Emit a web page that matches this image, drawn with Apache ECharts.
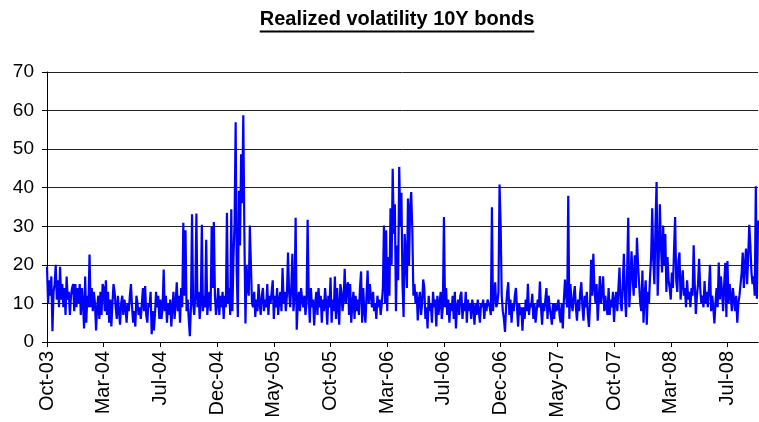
<!DOCTYPE html>
<html>
<head>
<meta charset="utf-8">
<script src="https://cdn.jsdelivr.net/npm/echarts@6/dist/echarts.min.js"></script>
<style>
  html, body { margin: 0; padding: 0; background: #fff; }
  #chart { width: 759px; height: 422px; }
</style>
</head>
<body>
<div id="chart"></div>
<script>
// tick labels, one every 52 observations
const tickLabels = ['Oct-03', 'Mar-04', 'Jul-04', 'Dec-04', 'May-05', 'Oct-05', 'Mar-06',
  'Jul-06', 'Dec-06', 'May-07', 'Oct-07', 'Mar-08', 'Jul-08'];
const tickStep = 52;

// realized vol, one block per tick period
const volOct03 = [19.5, 10, 16, 12, 17, 2.8, 13, 15, 20, 11,
  16, 9, 19.5, 11, 15, 9, 14, 7, 17, 11,
  13, 7, 12, 14, 15, 8, 15, 9, 14, 10,
  15, 7, 14, 10, 3.5, 17, 5, 12, 9, 22.7,
  9, 14, 8, 13, 10, 3, 9, 12, 6, 13,
  7, 15];
const volMar04 = [14, 8, 16, 7, 13, 5, 11, 4, 10, 15,
  13, 9, 6, 12, 8, 4.5, 10, 12, 7, 11,
  9, 5, 10, 8, 12, 15, 9, 5, 8, 4,
  12, 10, 7, 9, 6, 10, 14, 8, 14.5, 7,
  5, 10, 9, 13, 2, 8, 3, 7, 13, 9,
  12, 6];
const volJul04 = [11, 6, 9, 18.8, 8, 12, 5, 10, 7, 11,
  4, 9, 13, 6, 10, 15.5, 8, 12, 5, 14,
  9, 30.9, 12, 29, 8, 11, 6, 1.5, 9, 33.1,
  10, 7, 12, 33.3, 9, 13, 6, 10, 30.4, 8,
  12, 9, 26.5, 7, 11, 13, 8, 29.8, 14, 31.1,
  12, 7];
const volDec04 = [10, 14, 7, 12, 9, 13, 6, 12, 9, 33.5,
  10, 14, 7, 34.4, 8, 22, 31, 57, 18, 6.5,
  39.2, 25, 48.7, 36, 58.8, 28, 4.8, 20, 14, 12,
  30.2, 20, 10, 9, 13, 6.5, 11, 8, 15, 10,
  7, 12, 14, 8, 11, 9, 15, 7, 12, 10,
  13, 16];
const volMay05 = [6, 12, 9, 14, 7, 11, 13, 8, 19.2, 10,
  13, 8, 12, 23.2, 13, 9, 14, 22.9, 8, 12,
  32.2, 3.2, 10, 13, 8, 14, 11, 9, 12, 7,
  10, 31.7, 12, 5, 14, 9, 11, 4.3, 10, 13,
  7, 14, 9, 12, 5, 11, 8, 14, 10, 4.5,
  12, 9];
const volOct05 = [16.7, 5, 11, 8, 17, 6, 14, 9, 4.5, 15,
  13, 8, 11, 19, 10, 14, 15.5, 7, 15, 5,
  10, 13, 6, 12, 8, 11, 7, 14, 18.3, 5,
  14, 8, 5, 12, 18.5, 10, 15, 12, 9, 13,
  8, 10, 6, 12, 9, 11, 7, 10, 14, 30.2,
  10, 29];
const volMar06 = [8, 22, 12, 34.7, 20, 44.9, 28, 35.7, 8, 25,
  16, 45.4, 30, 38.7, 15, 6.5, 28, 22, 14, 37.2,
  20, 35, 38.9, 29, 12, 15, 10, 13, 5.6, 11,
  13, 7, 10, 16.2, 14, 6, 9, 3.5, 12, 8,
  10, 5, 13, 9, 11, 4, 12, 7, 10, 13,
  6, 9];
const volJul06 = [32.4, 9, 14, 7, 11, 5, 10, 8, 12, 6,
  13, 3.5, 9, 11, 7, 12, 13, 6, 10, 8,
  13, 5, 11, 8, 10, 6, 11, 9, 4.5, 10,
  7, 11, 8, 5, 10, 9, 11, 6, 10, 8,
  11, 10, 9, 7, 34.9, 8, 12, 15.5, 9, 10,
  13, 40.8];
const volDec06 = [30.3, 12, 8, 6, 2.6, 9, 13, 15.5, 7, 11,
  5, 10, 8, 12, 14, 9, 4, 10, 7, 9,
  2.9, 9, 6, 11, 8, 15.1, 7, 10, 9, 12.5,
  6, 10, 5, 8, 11, 9, 15.7, 9, 4.5, 10,
  8, 11, 14, 6, 12, 9, 7, 4.5, 10, 6,
  10, 8];
const volMay07 = [9, 11, 7, 5, 10, 3.5, 11, 16.2, 12, 9,
  37.9, 6, 15, 10, 8, 12, 14.5, 9, 5.5, 11,
  8, 13, 15.5, 9, 5.5, 12, 9, 13, 7, 3.9,
  10, 21.3, 12, 22.9, 14, 10, 15, 5.5, 11, 17.1,
  10, 13, 17, 8, 12, 9, 7, 14, 7, 11,
  9, 13];
const volOct07 = [5.2, 11, 13, 8, 14, 19.3, 10, 8, 15, 22.9,
  12, 6.5, 18, 32.2, 9, 15, 23.5, 17, 12, 22.5,
  14, 27, 20, 15, 10, 8, 18.5, 5, 12, 16,
  4.5, 13, 10, 16.9, 22, 34.7, 21, 15, 30.5, 41.5,
  12, 22, 35.7, 25, 18, 30.2, 20, 28, 13, 22,
  16, 14];
const volMar08 = [11, 18, 14, 24, 32.4, 16, 13, 21, 23.2, 11,
  15, 18.6, 12, 14, 9, 16, 11, 13, 9, 14,
  12, 25.1, 15, 7.3, 12, 15, 21.6, 14, 10, 12,
  9, 15.8, 10, 13, 9, 14, 20, 8, 12, 9,
  4.8, 10, 14, 9, 20.6, 11, 17, 13, 8, 15,
  20.5, 6.5];
const volJul08 = [21, 10, 15, 12, 8, 14, 11, 8, 12, 5,
  10, 12, 15, 18, 23.2, 14, 20, 24.2, 15, 22,
  30.4, 25, 18, 15, 17, 12, 40.4, 11.2, 31.5];

const yTicks = [0, 10, 20, 30, 40, 50, 60, 70];

const values = [].concat(volOct03, volMar04, volJul04, volDec04, volMay05, volOct05,
  volMar06, volJul06, volDec06, volMay07, volOct07, volMar08, volJul08);
const tickPos = tickLabels.map((_, i) => i * tickStep);

var myChart = echarts.init(document.getElementById('chart'));

// title is underlined, so measure it to place the rule
const titleText = 'Realized volatility 10Y bonds';
const fontFam = '"Liberation Sans", Arial, sans-serif';
const ctx = document.createElement('canvas').getContext('2d');
ctx.font = 'bold 20px ' + fontFam;
const titleW = ctx.measureText(titleText).width;
const titleCx = 397;

myChart.setOption({
  animation: false,
  title: {
    text: titleText,
    left: titleCx - titleW / 2,
    top: 9,
    padding: 0,
    textStyle: { fontFamily: fontFam, fontSize: 20, fontWeight: 'bold', color: '#000' }
  },
  graphic: [{
    type: 'line',
    shape: { x1: titleCx - titleW / 2, y1: 31.5, x2: titleCx + titleW / 2, y2: 31.5 },
    style: { stroke: '#000', lineWidth: 2 }
  }],
  grid: { left: 47, right: 1, top: 72, bottom: 80 },
  xAxis: {
    type: 'value',
    min: 0,
    max: values.length - 1,
    interval: tickStep,
    splitLine: { show: false },
    axisLine: { lineStyle: { color: '#000', width: 1 } },
    axisTick: { length: 5, customValues: tickPos, lineStyle: { color: '#000' } },
    axisLabel: {
      customValues: tickPos,
      rotate: 90,
      margin: 9,
      formatter: (v) => tickLabels[Math.round(v / tickStep)] || '',
      fontFamily: fontFam,
      fontSize: 20,
      color: '#000'
    }
  },
  yAxis: {
    type: 'value',
    min: yTicks[0],
    max: yTicks[yTicks.length - 1],
    interval: 10,
    axisLine: { show: true, lineStyle: { color: '#000', width: 1 } },
    axisTick: { show: true, length: 5, lineStyle: { color: '#000' } },
    axisLabel: { margin: 13, fontFamily: fontFam, fontSize: 19, color: '#000' },
    splitLine: { lineStyle: { color: '#222', width: 1 } }
  },
  series: [{
    type: 'line',
    symbol: 'none',
    sampling: null,
    lineStyle: { color: '#0000ff', width: 2.2 },
    data: values.map((v, i) => [i, v])
  }]
});
</script>
</body>
</html>
